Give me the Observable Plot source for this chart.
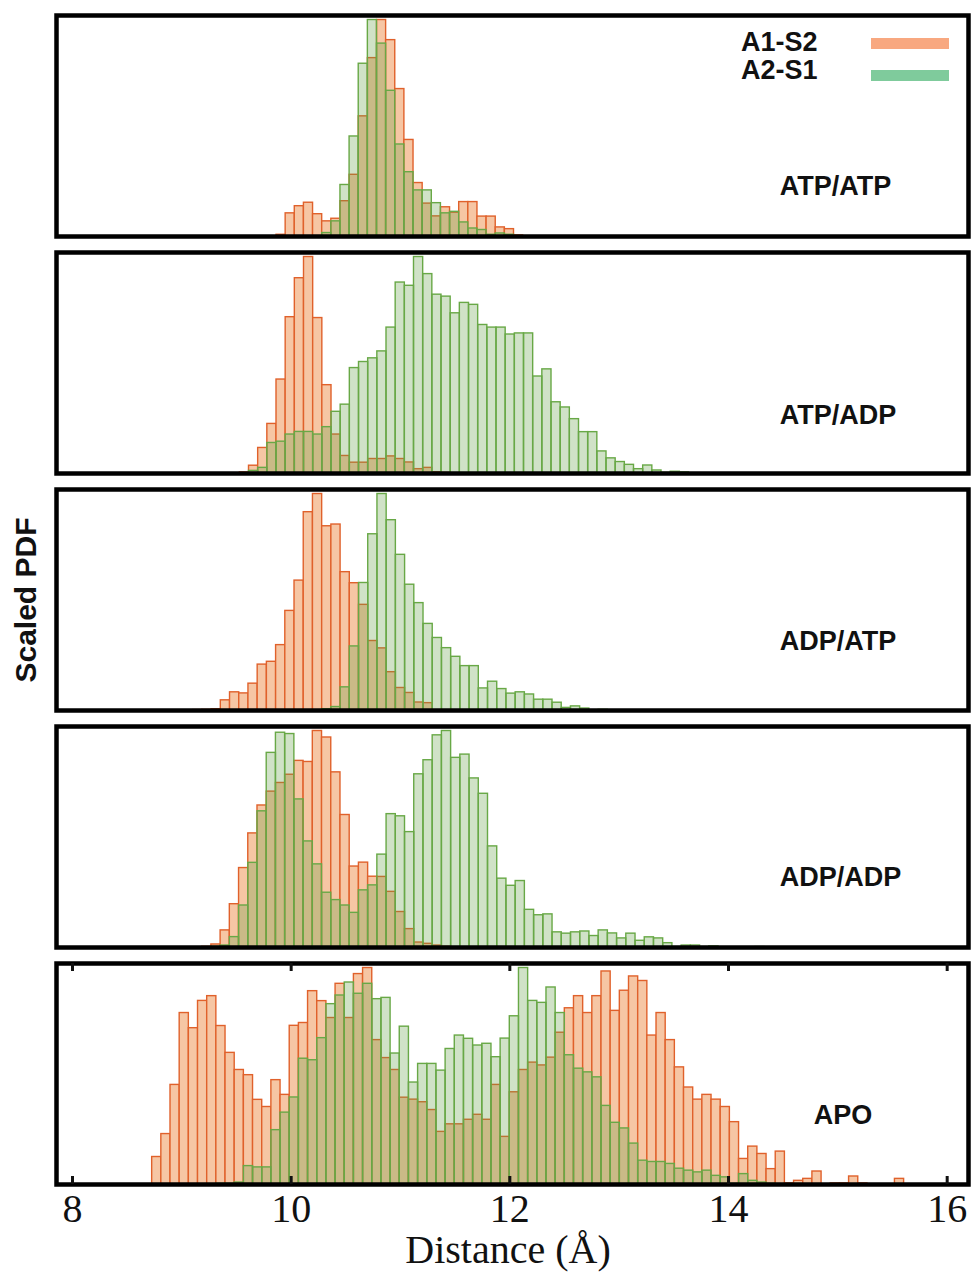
<!DOCTYPE html>
<html><head><meta charset="utf-8">
<script src="https://cdn.jsdelivr.net/npm/d3@7"></script>
<script src="https://cdn.jsdelivr.net/npm/@observablehq/plot@0.6"></script>
<style>
body{margin:0;background:#fff;}
#wrap{position:relative;width:971px;height:1274px;}
.leg{position:absolute;font-family:"Liberation Sans",Arial,sans-serif;font-weight:bold;font-size:27px;line-height:22px;color:#111;white-space:nowrap;}
.sw{position:absolute;width:78px;height:11px;}
</style></head><body>
<div id="wrap">
  <div class="leg" style="left:741px;top:31px;">A1-S2</div>
  <div class="sw" style="left:871px;top:38px;background:#f8a880;"></div>
  <div class="leg" style="left:741px;top:59px;">A2-S1</div>
  <div class="sw" style="left:871px;top:70px;background:#7fcb9c;"></div>
</div>
<script>
// Panels (systems)
const panels = ["ATP/ATP", "ATP/ADP", "ADP/ATP", "ADP/ADP", "APO"];
// Histogram bins: left edge of the first bin (Å) and bin width (Å) per panel
const binStart = [9.866, 9.5305, 9.1037, 9.186, 8.7287];
const binWidth = [0.08354, 0.08384, 0.08427, 0.08433, 0.08387];
const xTicks = [8, 10, 12, 14, 16];

// Scaled PDF, series A1-S2 (orange)
const a1s2_atpatp = [0.008,0.107,0.14,0.156,0.103,0.07,0.082,0.163,0.285,0.555,0.824,1.0,0.907,0.681,0.446,0.247,0.152,0.093,0.135,0.11,0.159,0.159,0.092,0.092,0.042,0.034,0.005];
const a1s2_atpadp = [0.005,0.036,0.118,0.229,0.434,0.722,0.902,1.0,0.718,0.408,0.18,0.081,0.05,0.05,0.067,0.067,0.079,0.067,0.051,0.02,0.026,0.006,0.003];
const a1s2_adpatp = [0.002,0.003,0.006,0.047,0.084,0.079,0.124,0.212,0.225,0.302,0.46,0.6,0.916,1.0,0.851,0.859,0.639,0.588,0.488,0.321,0.287,0.177,0.104,0.081,0.037,0.034];
const a1s2_adpadp = [0.003,0.014,0.079,0.2,0.367,0.527,0.656,0.72,0.76,0.798,0.862,0.857,1.0,0.97,0.809,0.612,0.374,0.392,0.327,0.326,0.257,0.164,0.085,0.023,0.017,0.009,0.003];
const a1s2_apo = [0.127,0.233,0.46,0.792,0.722,0.848,0.87,0.732,0.608,0.529,0.505,0.391,0.358,0.482,0.414,0.733,0.746,0.893,0.847,0.769,0.927,0.769,0.972,1.0,0.667,0.584,0.529,0.401,0.392,0.38,0.344,0.243,0.278,0.278,0.299,0.322,0.299,0.46,0.22,0.426,0.529,0.563,0.55,0.586,0.701,0.814,0.87,0.792,0.87,0.984,0.802,0.895,0.961,0.94,0.688,0.792,0.667,0.541,0.448,0.392,0.414,0.392,0.358,0.288,0.118,0.175,0.141,0.071,0.152,0.005,0.017,0.026,0.06,0,0.005,0.005,0.037,0.005,0,0,0,0.026];

// Scaled PDF, series A2-S1 (green)
const a2s1_atpatp = [0,0,0,0,0,0.016,0.07,0.238,0.462,0.798,1.0,0.891,0.673,0.425,0.297,0.213,0.213,0.154,0.107,0.114,0.065,0.037,0.03,0.008,0.014,0.008];
const a2s1_atpadp = [0,0.012,0.026,0.141,0.147,0.18,0.192,0.192,0.18,0.214,0.285,0.318,0.487,0.515,0.532,0.564,0.674,0.882,0.867,1.0,0.921,0.826,0.817,0.74,0.788,0.779,0.686,0.674,0.674,0.642,0.647,0.647,0.448,0.481,0.329,0.305,0.251,0.191,0.191,0.102,0.07,0.053,0.04,0.02,0.037,0.014,0.003,0.008,0.005];
const a2s1_adpatp = [0,0,0,0,0,0,0,0,0,0,0,0,0,0,0.006,0.016,0.107,0.296,0.589,0.814,1.0,0.879,0.719,0.581,0.496,0.4,0.335,0.288,0.248,0.205,0.205,0.102,0.133,0.099,0.078,0.084,0.074,0.05,0.05,0.036,0.012,0.019,0.009,0,0.003];
const a2s1_adpadp = [0,0.003,0.009,0.048,0.194,0.391,0.629,0.899,0.992,0.986,0.684,0.49,0.384,0.253,0.219,0.194,0.16,0.264,0.287,0.429,0.616,0.606,0.533,0.8,0.865,0.98,1.0,0.876,0.891,0.781,0.71,0.467,0.318,0.285,0.307,0.174,0.149,0.153,0.07,0.064,0.07,0.074,0.053,0.079,0.065,0.042,0.064,0.031,0.047,0.042,0.02,0.002,0.009,0.009,0.002,0.005,0,0,0,0,0.002];
const a2s1_apo = [0,0,0,0,0,0,0,0.003,0.003,0.009,0.085,0.079,0.079,0.251,0.332,0.402,0.581,0.574,0.676,0.833,0.873,0.933,0.881,0.927,0.856,0.862,0.605,0.729,0.471,0.557,0.557,0.526,0.626,0.688,0.673,0.642,0.65,0.588,0.674,0.777,1.0,0.848,0.839,0.91,0.792,0.597,0.535,0.518,0.495,0.363,0.285,0.259,0.189,0.11,0.104,0.104,0.095,0.073,0.064,0.056,0.064,0.04,0.033,0.003,0.048,0.017,0.009,0.003];

const a1s2 = [a1s2_atpatp, a1s2_atpadp, a1s2_adpatp, a1s2_adpadp, a1s2_apo];
const a2s1 = [a2s1_atpatp, a2s1_atpadp, a2s1_adpatp, a2s1_adpadp, a2s1_apo];

function toRows(series) {
  const rows = [];
  panels.forEach((p, k) => {
    series[k].forEach((v, i) => {
      if (v > 0) rows.push({panel: p, x1: binStart[k] + i * binWidth[k], x2: binStart[k] + (i + 1) * binWidth[k], v});
    });
  });
  return rows;
}
const orangeRows = toRows(a1s2);
const greenRows = toRows(a2s1);

const sans = "Liberation Sans, Arial, Helvetica, sans-serif";
const serif = "Liberation Serif, Times New Roman, serif";
// label offsets (dx, dy) from facet top-left, per panel
const labelOffsets = [[779, 171], [781.5, 163], [781.5, 152], [784, 150.7], [786.5, 151.6]];

const chart = Plot.plot({
  width: 971,
  height: 1274,
  marginTop: 15,
  marginBottom: 89.4,
  marginLeft: 56,
  marginRight: 3,
  style: {background: "white", overflow: "visible"},
  x: {domain: [7.8537, 16.195], axis: null},
  y: {domain: [0, 1], axis: null, insetTop: 4.5},
  fy: {domain: panels, axis: null, paddingInner: 0.067, paddingOuter: 0},
  marks: [
    Plot.rect(orangeRows, {x1: "x1", x2: "x2", y1: 0, y2: "v", fy: "panel", fill: "#f6c6a4", stroke: "#e0612b", strokeWidth: 1.4}),
    Plot.rect(greenRows, {x1: "x1", x2: "x2", y1: 0, y2: "v", fy: "panel", fill: "#64a046", fillOpacity: 0.3, stroke: "#68a846", strokeWidth: 1.4}),
    Plot.frame({stroke: "#000", strokeWidth: 4.5}),
    Plot.ruleX(xTicks, {x: d => d, fy: () => "APO", insetTop: 213, stroke: "#111", strokeWidth: 3}),
    Plot.ruleX(xTicks, {x: d => d, fy: () => "APO", insetBottom: 213, stroke: "#111", strokeWidth: 3}),
    ...labelOffsets.map(([dx, dy], k) => Plot.text([panels[k]], {
      fy: d => d, text: d => d, frameAnchor: "top-left", textAnchor: "middle", lineAnchor: "middle", dx, dy,
      fontSize: 27, fontWeight: "bold", fontFamily: sans, fill: "#111"
    })),
    Plot.text(xTicks, {x: d => d, fy: () => "APO", text: d => String(d), frameAnchor: "bottom", textAnchor: "middle", lineAnchor: "middle", dy: 25, fontSize: 40, fontFamily: serif, fill: "#111"}),
    Plot.text(["Distance (Å)"], {fy: () => "APO", text: d => d, frameAnchor: "bottom", textAnchor: "middle", lineAnchor: "middle", dx: -4.5, dy: 66, fontSize: 40, fontFamily: serif, fill: "#111"}),
    Plot.text(["Scaled PDF"], {fy: () => "ADP/ATP", text: d => d, frameAnchor: "left", textAnchor: "middle", lineAnchor: "middle", dx: -30, rotate: -90, fontSize: 30, fontWeight: "bold", fontFamily: sans, fill: "#111"})
  ]
});
const wrap = document.getElementById("wrap");
wrap.insertBefore(chart, wrap.firstChild);
</script>
</body></html>
